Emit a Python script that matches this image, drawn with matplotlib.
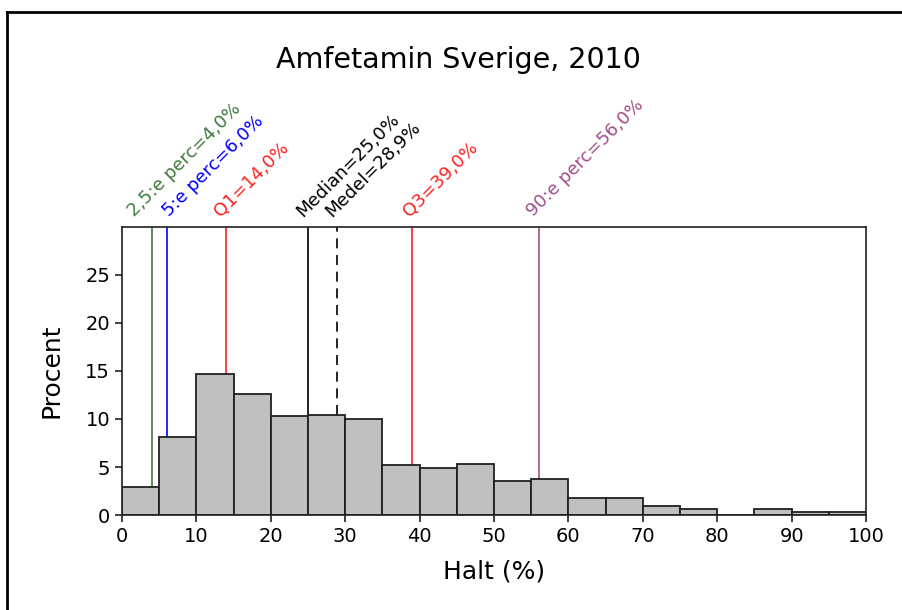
import numpy as np
import matplotlib
matplotlib.use("Agg")
import matplotlib.pyplot as plt
from matplotlib.lines import Line2D

# Histogram of purity (Halt %), 5 %-wide bins
bin_edges = np.arange(0, 105, 5)
percent = [2.9, 8.15, 14.7, 12.6, 10.3, 10.45, 9.95, 5.2, 4.85, 5.35,
           3.55, 3.75, 1.75, 1.75, 0.95, 0.6, 0.0, 0.65, 0.35, 0.35]

# Reference lines: label, value, colour, linestyle
ref_labels = ["2,5:e perc=4,0%", "5:e perc=6,0%", "Q1=14,0%", "Median=25,0%",
              "Medel=28,9%", "Q3=39,0%", "90:e perc=56,0%"]
ref_values = [4.0, 6.0, 14.0, 25.0, 28.9, 39.0, 56.0]
ref_colors = ["#3f7a3f", "#0000ff", "#ff2020", "#000000", "#000000", "#ff2020", "#a0508a"]
ref_styles = ["-", "-", "-", "-", (0, (6, 4)), "-", "-"]
# horizontal nudge (points) so neighbouring labels don't collide
label_dx = [-11, 4, -2, -2, -2, 0, -2]

fig = plt.figure(figsize=(9.02, 6.10), dpi=100)
ax = fig.add_axes([0.1353, 0.1557, 0.8248, 0.4723])

ax.bar(bin_edges[:-1], percent, width=5, align="edge", color="#c0c0c0",
       edgecolor="#202020", linewidth=1.3, zorder=2)

for lab, val, col, ls, dx in zip(ref_labels, ref_values, ref_colors, ref_styles, label_dx):
    # line starts at the bar top it crosses and runs up to the top of the frame
    idx = min(int(val // 5), len(percent) - 1)
    ax.plot([val, val], [percent[idx], 30], color=col, linestyle=ls, lw=1.2, zorder=1)
    ax.annotate(lab, xy=(val, 30), xycoords="data", xytext=(dx, 5),
                textcoords="offset points", rotation=45, rotation_mode="anchor",
                ha="left", va="bottom", color=col, fontsize=13,
                annotation_clip=False)

ax.set_xlim(0, 100)
ax.set_ylim(0, 30)
ax.set_xticks(np.arange(0, 101, 10))
ax.set_yticks(np.arange(0, 26, 5))
ax.tick_params(labelsize=14, color="#202020", length=5, width=1.2)
ax.set_xlabel("Halt (%)", fontsize=18, labelpad=10)
ax.set_ylabel("Procent", fontsize=18, labelpad=16)
for sp in ax.spines.values():
    sp.set_linewidth(1.2)
    sp.set_color("#202020")

fig.text(0.508, 0.902, "Amfetamin Sverige, 2010", ha="center", va="center", fontsize=20.5)

# outer frame around the graph (left and top edges visible)
fig.add_artist(Line2D([0.0083, 0.0083], [0.0, 0.9805], transform=fig.transFigure,
                      color="black", lw=2))
fig.add_artist(Line2D([0.0083, 1.0], [0.9805, 0.9805], transform=fig.transFigure,
                      color="black", lw=2))

fig.savefig("out.png", dpi=100)
